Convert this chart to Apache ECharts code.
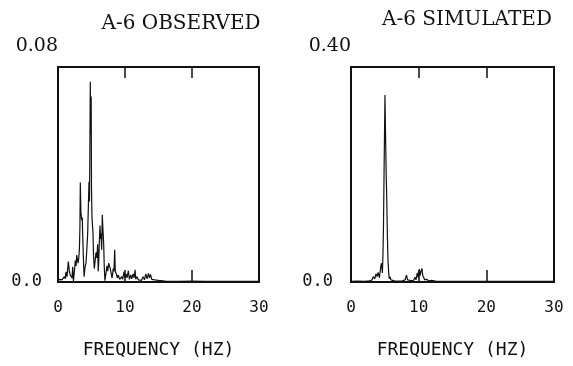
<!DOCTYPE html>
<html>
<head>
<meta charset="utf-8">
<script src="https://cdn.jsdelivr.net/npm/echarts@6/dist/echarts.min.js"></script>
<style>html,body{margin:0;padding:0;background:#fff;}#c{width:573px;height:366px;}</style>
</head>
<body>
<div id="c"></div>
<script>
var titles = ['A-6 OBSERVED', 'A-6 SIMULATED'];
var xTicks = [0, 10, 20, 30];
var yMaxLabels = ['0.08', '0.40'];
var yMaxValues = [0.08, 0.40];
var xAxisLabel = 'FREQUENCY (HZ)';

var obsFreq = [0.0,0.3,0.6,0.94,1.1,1.19,1.35,1.54,1.69,1.85,1.94,2.1,2.19,2.3,2.45,2.58,2.7,2.79,2.99,3.1,3.19,3.27,3.33,3.42,3.53,3.62,3.68,3.83,3.9,4.03,4.18,4.3,4.43,4.55,4.63,4.7,4.76,4.82,4.88,4.95,5.0,5.07,5.15,5.22,5.3,5.42,5.55,5.67,5.8,5.92,6.0,6.07,6.17,6.27,6.35,6.42,6.52,6.61,6.7,6.82,6.9,7.0,7.15,7.31,7.42,7.57,7.68,7.8,7.95,8.06,8.15,8.25,8.35,8.46,8.55,8.7,8.85,9.0,9.2,9.5,9.65,9.85,10.0,10.15,10.3,10.5,10.65,10.85,11.0,11.2,11.35,11.5,11.6,11.75,12.0,12.24,12.45,12.7,12.9,13.1,13.3,13.5,13.65,13.8,14.0,14.2,14.45,14.7,15.0,15.2,16,18,20,22,25,28,30];
var obsVal = [0.0005,0.001,0.0008,0.002,0.0012,0.0038,0.002,0.0076,0.004,0.0025,0.003,0.0015,0.0057,0.0003,0.004,0.008,0.006,0.010,0.007,0.009,0.012,0.02,0.037,0.026,0.023,0.024,0.018,0.006,0.002,0.0055,0.007,0.012,0.018,0.03,0.0373,0.03,0.05,0.0745,0.055,0.069,0.035,0.024,0.021,0.0185,0.01,0.005,0.008,0.011,0.009,0.014,0.004,0.007,0.015,0.021,0.016,0.018,0.012,0.025,0.02,0.014,0.006,0.0005,0.003,0.006,0.004,0.007,0.006,0.005,0.003,0.0015,0.003,0.005,0.004,0.012,0.004,0.003,0.0015,0.0026,0.001,0.002,0.001,0.0038,0.0015,0.003,0.0015,0.0042,0.001,0.0026,0.0012,0.003,0.0015,0.0045,0.001,0.002,0.0008,0.0015,0.0006,0.002,0.0008,0.003,0.0012,0.0032,0.0015,0.0028,0.001,0.0015,0.0008,0.001,0.0006,0.0005,0.0003,0.0002,0.0003,0.0002,0.0002,0.0002,0.0002];

var simFreq = [0,1,2,2.8,3.1,3.3,3.5,3.7,3.85,4.0,4.2,4.39,4.5,4.64,4.72,4.8,4.9,5.02,5.1,5.2,5.27,5.37,5.47,5.58,5.66,5.76,5.9,6.15,6.4,7.0,7.6,8.0,8.2,8.35,8.57,8.75,8.96,9.2,9.46,9.6,9.8,9.95,10.1,10.22,10.35,10.5,10.6,10.7,10.9,11.2,11.5,11.9,12.5,14,17,20,24,27,30];
var simVal = [0.001,0.0015,0.001,0.002,0.004,0.01,0.006,0.015,0.01,0.018,0.008,0.028,0.035,0.017,0.05,0.103,0.22,0.348,0.28,0.2,0.165,0.09,0.04,0.015,0.006,0.01,0.004,0.004,0.002,0.0015,0.002,0.004,0.013,0.004,0.006,0.003,0.004,0.002,0.009,0.004,0.017,0.008,0.024,0.012,0.02,0.025,0.012,0.01,0.004,0.005,0.002,0.003,0.0015,0.001,0.001,0.001,0.001,0.001,0.001];

function pairs(f, v) { return f.map(function (x, i) { return [x, v[i]]; }); }

var grids = [
  { left: 58, top: 67, width: 201, height: 215 },
  { left: 351, top: 67, width: 203, height: 215 }
];
var titleCenters = [176, 462];
var titleTops = [9, 5];

var mono = 'DejaVu Sans Mono';
var option = {
  animation: false,
  backgroundColor: '#fff',
  title: titles.map(function (t, i) {
    return { text: t, left: titleCenters[i], top: titleTops[i], textAlign: 'center',
      textStyle: { fontFamily: 'DejaVu Serif', fontWeight: 'normal', fontSize: 20, color: '#111' } };
  }),
  grid: grids.map(function (g) {
    return Object.assign({ show: true, borderColor: '#111', borderWidth: 2, backgroundColor: 'transparent' }, g);
  }),
  xAxis: [],
  yAxis: [],
  series: []
};
[0, 1].forEach(function (i) {
  option.xAxis.push({
    type: 'value', gridIndex: i, min: xTicks[0], max: xTicks[xTicks.length - 1], interval: 10,
    position: 'bottom',
    axisLine: { show: true, lineStyle: { color: '#111', width: 2 } },
    axisTick: { show: true, inside: true, length: 12, lineStyle: { color: '#111', width: 1.5 } },
    axisLabel: { show: true, margin: 18, fontFamily: mono, fontSize: 16, color: '#111' },
    splitLine: { show: false },
    name: xAxisLabel, nameLocation: 'middle', nameGap: 59,
    nameTextStyle: { fontFamily: mono, fontSize: 18, color: '#111' }
  });
  option.xAxis.push({
    type: 'value', gridIndex: i, min: xTicks[0], max: xTicks[xTicks.length - 1], interval: 10,
    position: 'top',
    axisLine: { show: true, lineStyle: { color: '#111', width: 2 } },
    axisTick: { show: true, inside: true, length: 11, lineStyle: { color: '#111', width: 1.5 } },
    axisLabel: { show: false },
    splitLine: { show: false }
  });
  option.yAxis.push({
    type: 'value', gridIndex: i, min: 0, max: yMaxValues[i], interval: yMaxValues[i],
    axisLine: { show: true, lineStyle: { color: '#111', width: 2 } },
    axisTick: { show: false },
    splitLine: { show: false },
    axisLabel: { margin: i === 0 ? 16 : 18, fontFamily: mono, fontSize: 17, color: '#111',
      padding: [6, 0, 0, 0],
      formatter: function (v) { return v === 0 ? '0.0' : ''; } },
    name: yMaxLabels[i], nameLocation: 'end', nameGap: 21,
    nameTextStyle: { fontFamily: 'DejaVu Serif', fontSize: 19, color: '#111', align: 'right', verticalAlign: 'middle' }
  });
});
option.series.push({
  type: 'line', xAxisIndex: 0, yAxisIndex: 0, data: pairs(obsFreq, obsVal),
  showSymbol: false, symbol: 'none', lineStyle: { color: '#111', width: 1.2 }, silent: true
});
option.series.push({
  type: 'line', xAxisIndex: 2, yAxisIndex: 1, data: pairs(simFreq, simVal),
  showSymbol: false, symbol: 'none', lineStyle: { color: '#111', width: 1.2 }, silent: true
});
var chart = echarts.init(document.getElementById('c'), null, { renderer: 'canvas' });
chart.setOption(option);
</script>
</body>
</html>
